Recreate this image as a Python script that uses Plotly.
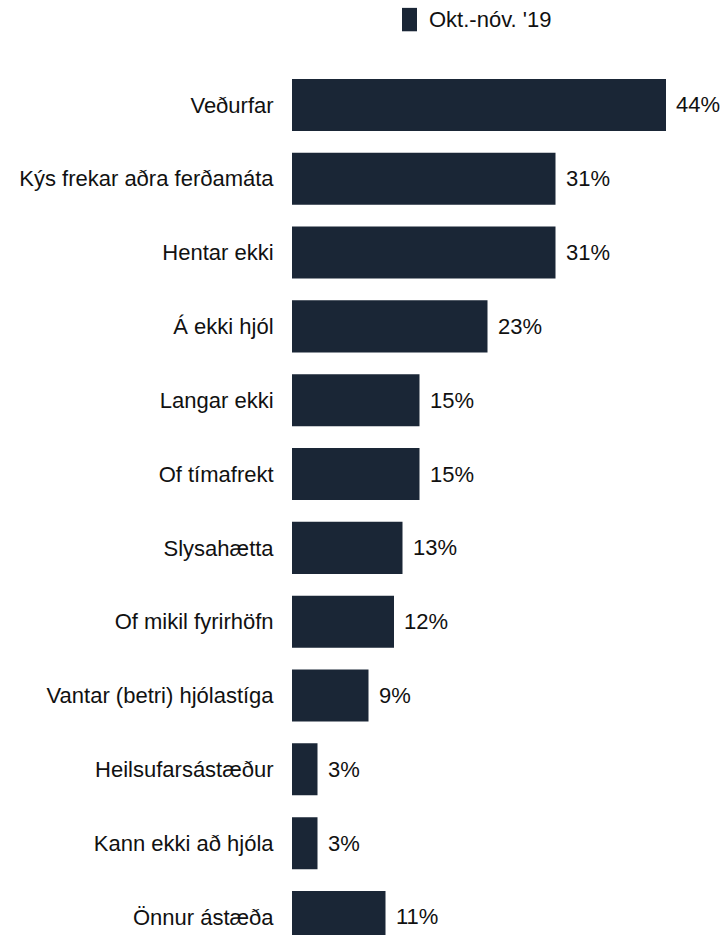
import plotly.graph_objects as go

categories = ["Veðurfar", "Kýs frekar aðra ferðamáta", "Hentar ekki", "Á ekki hjól",
              "Langar ekki", "Of tímafrekt", "Slysahætta", "Of mikil fyrirhöfn",
              "Vantar (betri) hjólastíga", "Heilsufarsástæður", "Kann ekki að hjóla",
              "Önnur ástæða"]
values = [44, 31, 31, 23, 15, 15, 13, 12, 9, 3, 3, 11]
series_name = "Okt.-nóv. '19"

BAR = "#1a2636"
FONT = "Arial, Liberation Sans, sans-serif"
FS = 22

fig = go.Figure()
fig.add_trace(go.Bar(
    x=values, y=categories, orientation="h", name=series_name,
    marker=dict(color=BAR, line=dict(width=0)),
    showlegend=False, hoverinfo="skip",
))

for c, v in zip(categories, values):
    fig.add_annotation(x=v, y=c, text=f"{v}%", showarrow=False,
                       xanchor="left", yanchor="middle", xshift=8,
                       font=dict(family=FONT, size=FS, color="#111111"))

# legend drawn manually (tall swatch)
fig.add_shape(type="rect", xref="paper", yref="paper",
              x0=(402 - 292) / 425, x1=(417 - 292) / 425,
              y0=1 + (68.4 - 31.7) / 866.6, y1=1 + (68.4 - 8.3) / 866.6,
              fillcolor=BAR, line=dict(width=0))
fig.add_annotation(xref="paper", yref="paper",
                   x=(427 - 292) / 425, y=1 + (68.4 - 20) / 866.6,
                   text=series_name, showarrow=False, xanchor="left", yanchor="middle",
                   font=dict(family=FONT, size=FS, color="#111111"))

fig.update_layout(
    width=726, height=935,
    margin=dict(l=292, r=9, t=68.4, b=0, pad=0),
    paper_bgcolor="white", plot_bgcolor="white",
    bargap=0.295,
    font=dict(family=FONT, size=FS, color="#111111"),
    xaxis=dict(range=[0, 50], visible=False, showgrid=False, zeroline=False, fixedrange=True),
    yaxis=dict(type="category", categoryorder="array", categoryarray=categories,
               range=[11.244, -0.5], showgrid=False, zeroline=False, showline=False,
               ticks="outside", ticklen=13, tickcolor="rgba(0,0,0,0)", fixedrange=True,
               tickfont=dict(family=FONT, size=FS, color="#111111")),
)

fig.write_html("out.html", config={"displayModeBar": False},
               post_script="document.body.style.margin='0';")
